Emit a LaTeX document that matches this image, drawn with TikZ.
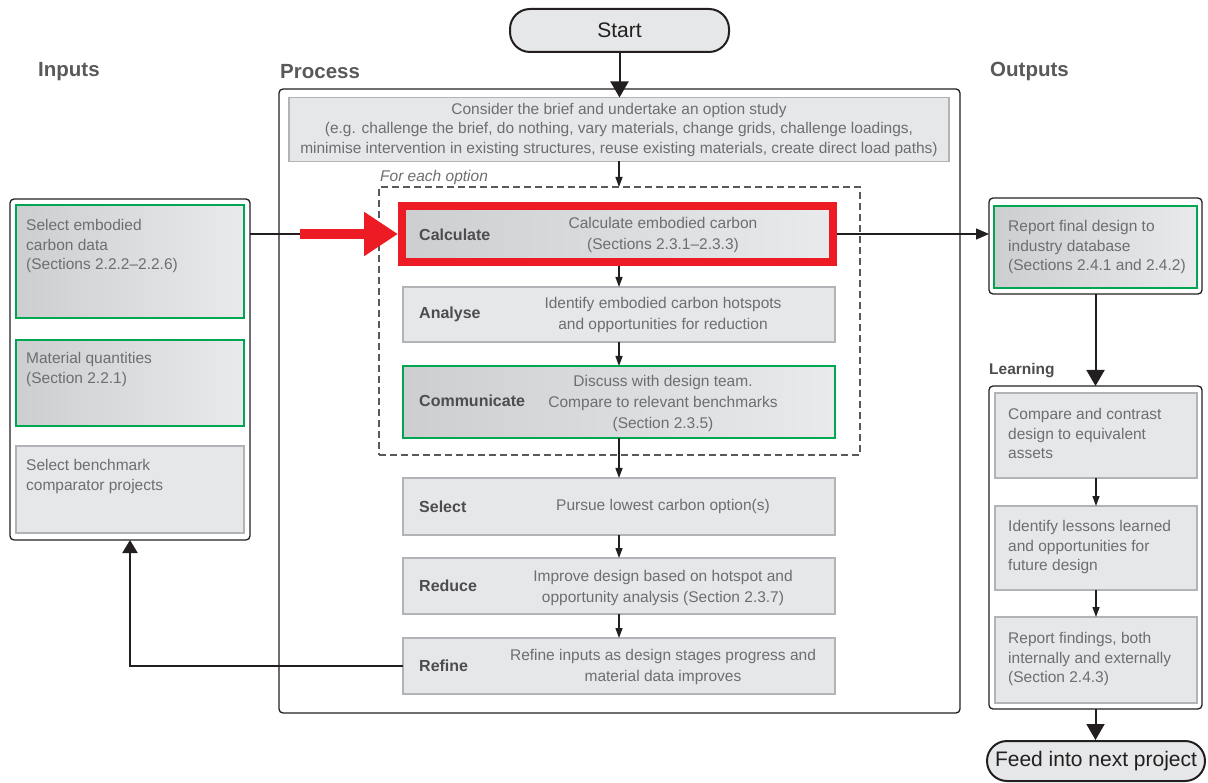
\documentclass[tikz,border=0pt]{standalone}
\usepackage{fontspec}
\setmainfont{Liberation Sans}
\usetikzlibrary{arrows.meta,calc}
\definecolor{boxfill}{HTML}{E6E7E8}
\definecolor{boxline}{HTML}{B1B3B6}
\definecolor{gradL}{HTML}{CDCED0}
\definecolor{gradR}{HTML}{E9EAEB}
\definecolor{txt}{HTML}{6D6E71}
\definecolor{lab}{HTML}{4D4D4F}
\definecolor{ttl}{HTML}{58595B}
\definecolor{mygreen}{HTML}{00A651}
\definecolor{myred}{HTML}{ED1C24}
\definecolor{ink}{HTML}{231F20}
\begin{document}
\begin{tikzpicture}[x=1pt,y=-1pt,
  body/.style={font=\fontsize{15.5}{19.5}\selectfont, text=txt},
  greybox/.style={draw=boxline, fill=boxfill, line width=1.2pt, inner sep=0pt, outer sep=0pt},
  greenbox/.style={draw=mygreen, line width=2.6pt, left color=gradL, right color=gradR, inner sep=0pt, outer sep=0pt},
  outerbox/.style={draw=ink, line width=1.3pt, rounded corners=4pt, fill=white, inner sep=0pt, outer sep=0pt},
  thinarrow/.style={draw=ink, line width=1.3pt, -{Triangle[width=7pt,length=10pt]}},
  thickarrow/.style={draw=ink, line width=2pt, -{Triangle[width=18pt,length=16pt]}},
  steplabel/.style={font=\fontsize{16}{19.5}\selectfont\bfseries, text=lab, anchor=west, inner sep=0pt},
  desc/.style={font=\fontsize{15.5}{21}\selectfont, text=txt, align=center, inner sep=0pt},
  ltext/.style={body, align=left, anchor=north west, inner sep=0pt},
  titletext/.style={font=\fontsize{20.5}{24}\selectfont\bfseries, text=ttl, anchor=west, inner sep=0pt},
  terminal/.style={draw=ink, line width=2pt, fill=boxfill, rounded corners=20pt, inner sep=0pt, font=\fontsize{21}{24}\selectfont, text=ink}
]
\useasboundingbox (0,0) rectangle (1208,783);

% titles
\node[titletext] (tin) at (38,71.5) {Inputs};
\node[titletext] (tproc) at (280,71.5) {Process};
\node[titletext] (tout) at (990,71.5) {Outputs};

% start
\node[terminal, minimum width=219pt, minimum height=43pt] (start) at (619.5,30.5) {Start};

% process
\node[outerbox, minimum width=681pt, minimum height=624pt] (process) at (619.5,401) {};
\node[greybox, minimum width=660pt, minimum height=64pt, body, align=center] (brief) at (619,129.5)
  {Consider the brief and undertake an option study\\(e.g. challenge the brief, do nothing, vary materials, change grids, challenge loadings,\\minimise intervention in existing structures, reuse existing materials, create direct load paths)};

\node[body, font=\fontsize{15.5}{19.5}\selectfont\itshape, anchor=west, inner sep=0pt] (foreach) at (380,177) {For each option};
\node[draw=ttl, dash pattern=on 7pt off 4pt, line width=1.2pt, minimum width=481pt, minimum height=268pt, inner sep=0pt, outer sep=0pt] (loop) at (619.5,321) {};

\node[draw=myred, line width=8pt, left color=gradL, right color=gradR, minimum width=431pt, minimum height=55.5pt, inner sep=0pt] (calc) at (617.5,234) {};
\node[steplabel] (calcl) at (419,235) {Calculate};
\node[desc] (calcd) at (663,234.5) {Calculate embodied carbon\\(Sections 2.3.1--2.3.3)};

\node[greybox, minimum width=432pt, minimum height=55pt] (analyse) at (619,314.5) {};
\node[steplabel] (analysel) at (419,314.5) {Analyse};
\node[desc] (analysed) at (663,314.5) {Identify embodied carbon hotspots\\and opportunities for reduction};

\node[greenbox, minimum width=432pt, minimum height=72pt] (comm) at (619,402) {};
\node[steplabel] (comml) at (419,401) {Communicate};
\node[desc] (commd) at (663,403) {Discuss with design team.\\Compare to relevant benchmarks\\(Section 2.3.5)};

\node[greybox, minimum width=432pt, minimum height=57pt] (select) at (619,506.5) {};
\node[steplabel] (selectl) at (419,506.5) {Select};
\node[desc] (selectd) at (663,506.5) {Pursue lowest carbon option(s)};

\node[greybox, minimum width=432pt, minimum height=56pt] (reduce) at (619,586) {};
\node[steplabel] (reducel) at (419,586) {Reduce};
\node[desc] (reduced) at (663,587.5) {Improve design based on hotspot and\\opportunity analysis (Section 2.3.7)};

\node[greybox, minimum width=432pt, minimum height=56pt] (refine) at (619,666) {};
\node[steplabel] (refinel) at (419,666) {Refine};
\node[desc] (refined) at (663,666.5) {Refine inputs as design stages progress and\\material data improves};

% process arrows
\draw[thickarrow] (start.south) -- (start.south |- brief.north);
\draw[thinarrow] (brief.south) -- (brief.south |- loop.north);
\draw[thinarrow] (analyse.north |- calc.south) -- (analyse.north);
\draw[thinarrow] (analyse.south) -- (comm.north);
\draw[thinarrow] (comm.south) -- (select.north);
\draw[thinarrow] (select.south) -- (reduce.north);
\draw[thinarrow] (reduce.south) -- (refine.north);

% inputs
\node[outerbox, minimum width=240pt, minimum height=341pt] (inputs) at (130,369.5) {};
\node[greenbox, minimum width=228pt, minimum height=113pt] (in1) at (130,261.5) {};
\node[ltext] (in1t) at (26,219.5) {Select embodied\\carbon data\\(Sections 2.2.2--2.2.6)};
\node[greenbox, minimum width=228pt, minimum height=86pt] (in2) at (130,383) {};
\node[ltext] (in2t) at (26,352.5) {Material quantities\\(Section 2.2.1)};
\node[greybox, minimum width=228pt, minimum height=87pt] (in3) at (130,489.5) {};
\node[ltext] (in3t) at (26,459.5) {Select benchmark\\comparator projects};

% outputs
\node[outerbox, minimum width=213pt, minimum height=96pt] (outputs) at (1095.5,246) {};
\node[greenbox, minimum width=203pt, minimum height=82pt] (out1) at (1095.5,247) {};
\node[ltext] (out1t) at (1008,220.5) {Report final design to\\industry database\\(Sections 2.4.1 and 2.4.2)};

\node[steplabel, font=\fontsize{15.5}{19.5}\selectfont\bfseries] (learnl) at (989,371) {Learning};
\node[outerbox, minimum width=213pt, minimum height=323pt] (learning) at (1095.5,547.5) {};
\node[greybox, minimum width=202pt, minimum height=85pt] (l1) at (1096,435.5) {};
\node[ltext] (l1t) at (1008,408.5) {Compare and contrast\\design to equivalent\\assets};
\node[greybox, minimum width=202pt, minimum height=84pt] (l2) at (1096,548) {};
\node[ltext] (l2t) at (1008,520.5) {Identify lessons learned\\and opportunities for\\future design};
\node[greybox, minimum width=202pt, minimum height=86pt] (l3) at (1096,660) {};
\node[ltext] (l3t) at (1008,632.5) {Report findings, both\\internally and externally\\(Section 2.4.3)};

\node[terminal, minimum width=218pt, minimum height=40pt] (feed) at (1096,761) {Feed into next project};

\draw[thinarrow] (l1.south) -- (l2.north);
\draw[thinarrow] (l2.south) -- (l3.north);
\draw[thickarrow] (outputs.south) -- (outputs.south |- learning.north);
\draw[thickarrow] (learning.south) -- (learning.south |- feed.north);

% cross connections
\coordinate (redstart) at (300,234);
\draw[ink, line width=1.3pt] (inputs.east |- calc.west) -- (redstart);
\draw[myred, line width=10pt, -{Triangle[width=42pt,length=34pt]}] (redstart) -- (calc.west);
\draw[draw=ink, line width=1.3pt, -{Triangle[width=11pt,length=13pt]}] (calc.east) -- (calc.east -| outputs.west);
\draw[draw=ink, line width=2pt, -{Triangle[width=15pt,length=13pt]}] (refine.west) -- (refine.west -| inputs.south) -- (inputs.south);
\end{tikzpicture}
\end{document}
